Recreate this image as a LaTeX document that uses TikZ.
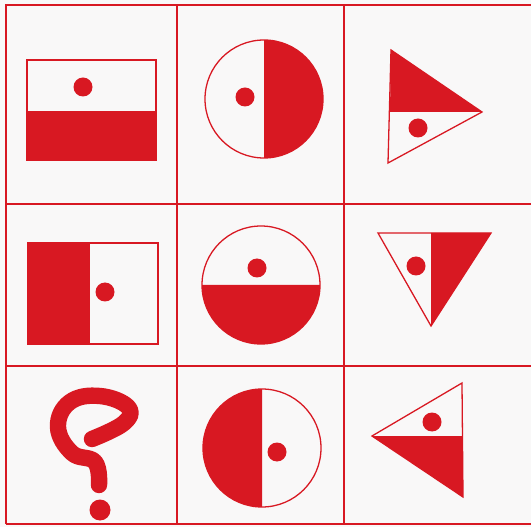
\documentclass[tikz,border=0pt]{standalone}
\usepackage{tikz}
\definecolor{puzred}{RGB}{216,24,34}
\definecolor{paper}{RGB}{249,248,248}
\begin{document}
\begin{tikzpicture}[x=0.03cm,y=0.03cm,
  grid/.style={draw=puzred,line width=1.8pt},
  outline/.style={draw=puzred,line width=1.1pt},
  half/.style={fill=puzred},
  dot/.style={fill=puzred},
  qmark/.style={draw=puzred,line width=14pt,line cap=round,line join=round}]
\fill[paper] (0,0) rectangle (531,527);
\useasboundingbox (0,0) rectangle (531,527);
% grid
\draw[grid] (6,3) -- (6,522) -- (531,522);
\draw[grid] (177,3) -- (177,522);
\draw[grid] (344,3) -- (344,522);
\draw[grid] (6,323) -- (531,323);
\draw[grid] (6,161) -- (531,161);
\draw[grid] (6,3) -- (531,3);
% row 1
\fill[half] (27,367) rectangle (156,416);
\draw[outline] (27,367) rectangle (156,467);
\fill[dot] (83,440) circle (9.5);
\fill[half] (264,428) ++(0,59) arc[start angle=90,end angle=-90,radius=59] -- cycle;
\draw[outline] (264,428) circle (59);
\fill[dot] (245,430) circle (9.5);
\fill[half] (391,477) -- (482,415) -- (390,415) -- cycle;
\draw[outline] (391,477) -- (482,415) -- (388,364) -- cycle;
\fill[dot] (418,399) circle (9.5);
% row 2
\fill[half] (28,183) rectangle (90,284);
\draw[outline] (28,183) rectangle (158,284);
\fill[dot] (105,235) circle (9.5);
\fill[half] (202,242) arc[start angle=180,end angle=360,radius=59] -- cycle;
\draw[outline] (261,242) circle (59);
\fill[dot] (257,259) circle (9.5);
\fill[half] (431,294) -- (491,294) -- (431,201) -- cycle;
\draw[outline] (378,294) -- (491,294) -- (431,201) -- cycle;
\fill[dot] (416,261) circle (9.5);
% row 3
\draw[qmark] plot[smooth,tension=0.7] coordinates {(92,88) (124,104) (128,120) (100,131) (70,125) (58,100) (72,74) (95,65) (99,42)};
\fill[dot] (100,17) circle (10.5);
\fill[half] (262,138) arc[start angle=90,end angle=270,radius=59] -- cycle;
\draw[outline] (262,79) circle (59);
\fill[dot] (277,75) circle (9.5);
\fill[half] (372,91) -- (462.5,91) -- (463,30) -- cycle;
\draw[outline] (372,91) -- (462,144) -- (463,30) -- cycle;
\fill[dot] (432,105) circle (9.5);
\end{tikzpicture}
\end{document}
